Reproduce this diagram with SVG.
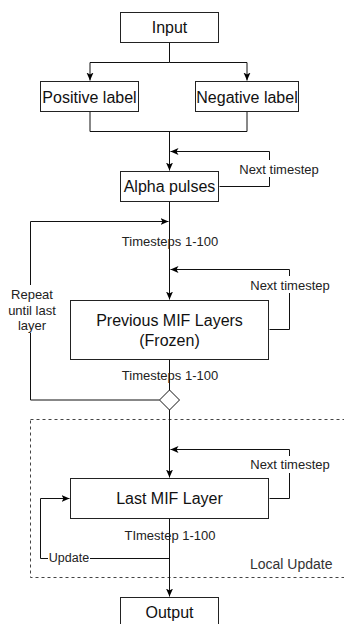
<svg xmlns="http://www.w3.org/2000/svg" width="344" height="624" viewBox="0 0 344 624">
<defs>
<marker id="arr" markerUnits="userSpaceOnUse" markerWidth="9" markerHeight="9" refX="8" refY="4" orient="auto">
<path d="M0,0.5 L8,4 L0,7.5 L2,4 Z" fill="#000"/>
</marker>
</defs>
<style>
.box{fill:#fff;stroke:#222;stroke-width:1}
.ln{fill:none;stroke:#111;stroke-width:1}
.bt{font-family:"Liberation Sans",Arial,sans-serif;font-size:16px;fill:#111;text-anchor:middle}
.lb{font-family:"Liberation Sans",Arial,sans-serif;font-size:13px;fill:#222;text-anchor:middle}
</style>
<rect width="344" height="624" fill="#fff"/>
<g id="local-update">
<rect x="30.5" y="419.5" width="330" height="158" fill="none" stroke="#444" stroke-dasharray="3,3"/>
<text x="250" y="568.5" font-family="'Liberation Sans',Arial,sans-serif" font-size="14" fill="#333">Local Update</text>
</g>
<g id="connectors">
<path class="ln" d="M169.5,42.5 V62.5 H90 V80.5" marker-end="url(#arr)"/>
<path class="ln" d="M169.5,62.5 H247 V80.5" marker-end="url(#arr)"/>
<path class="ln" d="M90,111.5 V131.5 H247 V111.5"/>
<path class="ln" d="M169.5,131.5 V170.5" marker-end="url(#arr)"/>
<path class="ln" d="M219.5,186.5 H269.5 V151.5 H170.5" marker-end="url(#arr)"/>
<path class="ln" d="M169.5,201.5 V299.5" marker-end="url(#arr)"/>
<path class="ln" d="M159.5,400 H30.5 V221.5 H168.5" marker-end="url(#arr)"/>
<path class="ln" d="M269.5,329.5 H289.5 V269.5 H170.5" marker-end="url(#arr)"/>
<path class="ln" d="M169.5,359.5 V390"/>
<path class="ln" d="M169.5,410 V477.5" marker-end="url(#arr)"/>
<path class="ln" d="M269.5,498.5 H289.5 V449.5 H170.5" marker-end="url(#arr)"/>
<path class="ln" d="M169.5,518.5 V596.5" marker-end="url(#arr)"/>
<path class="ln" d="M169.5,558.5 H40.5 V498.5 H69.5" marker-end="url(#arr)"/>
<rect x="240" y="160" width="79" height="17" fill="#fff"/>
<text class="lb" x="279" y="173.5">Next timestep</text>
<text class="lb" x="170" y="245.5">Timesteps 1-100</text>
<rect x="251" y="276" width="79" height="17" fill="#fff"/>
<text class="lb" x="290" y="290">Next timestep</text>
<rect x="6" y="285" width="52" height="48" fill="#fff"/>
<text class="lb" x="32" y="298.5">Repeat</text>
<text class="lb" x="32" y="314.5">until last</text>
<text class="lb" x="32" y="329.5">layer</text>
<text class="lb" x="170" y="380">Timesteps 1-100</text>
<rect x="251" y="456" width="79" height="17" fill="#fff"/>
<text class="lb" x="290" y="469">Next timestep</text>
<text class="lb" x="170" y="540">TImestep 1-100</text>
<rect x="48" y="551" width="42" height="14" fill="#fff"/>
<text x="69" y="562" font-family="'Liberation Sans',Arial,sans-serif" font-size="12.5" fill="#222" text-anchor="middle">Update</text>
</g>
<g id="input">
<rect class="box" x="120.5" y="12.5" width="98" height="30"/>
<text class="bt" x="169.5" y="33">Input</text>
</g>
<g id="positive-label">
<rect class="box" x="40.5" y="81.5" width="98" height="30"/>
<text class="bt" x="89.5" y="102.5">Positive label</text>
</g>
<g id="negative-label">
<rect class="box" x="195.5" y="81.5" width="103" height="30"/>
<text class="bt" x="247" y="102.5">Negative label</text>
</g>
<g id="alpha-pulses">
<rect class="box" x="120.5" y="171.5" width="98" height="30"/>
<text class="bt" x="169.5" y="192">Alpha pulses</text>
</g>
<g id="previous-mif-layers">
<rect class="box" x="70.5" y="300.5" width="198" height="59"/>
<text class="bt" x="169.5" y="326">Previous MIF Layers</text>
<text class="bt" x="169.5" y="346">(Frozen)</text>
</g>
<g id="decision">
<path d="M169.5,390 L179.5,400 L169.5,410 L159.5,400 Z" fill="#fff" stroke="#111"/>
</g>
<g id="last-mif-layer">
<rect class="box" x="70.5" y="478.5" width="198" height="40"/>
<text class="bt" x="169.5" y="504">Last MIF Layer</text>
</g>
<g id="output">
<rect class="box" x="120.5" y="597.5" width="98" height="40"/>
<text class="bt" x="169.5" y="618">Output</text>
</g>
</svg>
